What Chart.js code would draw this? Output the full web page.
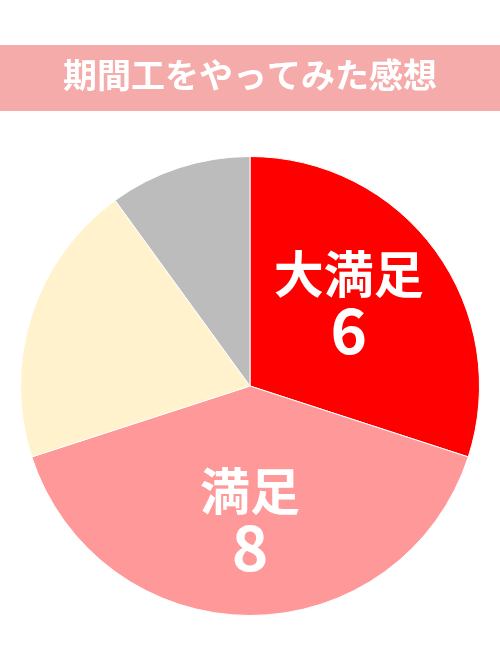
<!DOCTYPE html>
<html>
<head>
<meta charset="utf-8">
<script src="https://cdn.jsdelivr.net/npm/chart.js@4/dist/chart.umd.min.js"></script>
<style>
  html, body { margin: 0; padding: 0; background: #fff; }
  #wrap { position: relative; width: 500px; height: 667px; }
</style>
</head>
<body>
<div id="wrap"><canvas id="pie-chart" width="500" height="667"></canvas></div>
<script>
// data
var titleText = '期間工をやってみた感想';
var categories = ['大満足', '満足', '普通', '不満'];
var counts = [6, 8, 4, 2];
var showLabel = [true, true, false, false];
var colors = ['#fe0000', '#ff9999', '#fff2cc', '#bcbcbc'];

var font = '"Noto Sans CJK JP", "Noto Sans", sans-serif';

// pink title bar across the top
var titleBar = {
    id: 'titleBar',
    beforeDraw: function(chart){
        var ctx = chart.ctx;
        ctx.save();
        ctx.fillStyle = '#f6abab';
        ctx.fillRect(0, 45, chart.width, 66);
        ctx.fillStyle = '#ffffff';
        ctx.font = 'bold 34px ' + font;
        ctx.textAlign = 'center';
        ctx.textBaseline = 'middle';
        ctx.fillText(titleText, chart.width / 2, 75);
        ctx.restore();
    }
};

// name + count written inside the slices
var sliceLabels = {
    id: 'sliceLabels',
    afterDatasetsDraw: function(chart){
        var ctx = chart.ctx;
        var meta = chart.getDatasetMeta(0);
        ctx.save();
        ctx.fillStyle = '#ffffff';
        ctx.textAlign = 'center';
        ctx.textBaseline = 'middle';
        meta.data.forEach(function(arc, i){
            if (!showLabel[i]) return;
            var p = arc.getProps(['x', 'y', 'startAngle', 'endAngle', 'outerRadius'], true);
            var mid = (p.startAngle + p.endAngle) / 2;
            var r = p.outerRadius * 0.575;
            var x = p.x + Math.cos(mid) * r;
            var y = p.y + Math.sin(mid) * r;
            if (i === 0) { x -= 8; y -= 7; }
            ctx.font = 'bold 50px ' + font;
            ctx.fillText(categories[i], x, y - 27);
            ctx.font = 'bold 62px ' + font;
            ctx.fillText(String(counts[i]), x, y + 29);
        });
        ctx.restore();
    }
};

new Chart(document.getElementById('pie-chart'), {
    type: 'pie',
    data: {
        labels: categories,
        datasets: [{
            data: counts,
            backgroundColor: colors,
            borderColor: '#ffffff',
            borderWidth: 1
        }]
    },
    options: {
        responsive: false,
        devicePixelRatio: 1,
        animation: false,
        layout: { padding: { top: 156, bottom: 51, left: 20, right: 20 } },
        plugins: {
            legend: { display: false },
            tooltip: { enabled: false }
        }
    },
    plugins: [titleBar, sliceLabels]
});
</script>
</body>
</html>
